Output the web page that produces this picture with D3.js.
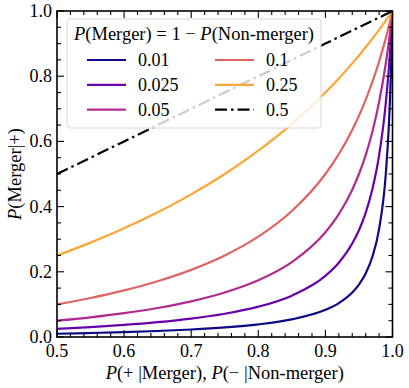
<!DOCTYPE html>
<html>
<head>
<meta charset="utf-8">
<script src="https://cdn.jsdelivr.net/npm/d3@7"></script>
<style>
  body { margin: 0; background: #fff; }
</style>
</head>
<body>
<div id="chart"></div>
<script>
// x grid (sensitivity = specificity) and P(Merger|+)
const xs = [0.5, 0.55, 0.6, 0.65, 0.7, 0.75, 0.8, 0.85, 0.9, 0.92, 0.94, 0.95, 0.96, 0.97, 0.98, 0.99, 0.995, 0.998, 1.0];

const p001 = [0.0100, 0.0122, 0.0149, 0.0184, 0.0230, 0.0294, 0.0388, 0.0541, 0.0833, 0.1041, 0.1366, 0.1610, 0.1951, 0.2462, 0.3311, 0.5000, 0.6678, 0.8344, 1.0];
const p0025 = [0.0250, 0.0304, 0.0370, 0.0455, 0.0565, 0.0714, 0.0930, 0.1269, 0.1875, 0.2277, 0.2866, 0.3276, 0.3810, 0.4533, 0.5568, 0.7174, 0.8361, 0.9275, 1.0];
const p005 = [0.0500, 0.0604, 0.0732, 0.0890, 0.1094, 0.1364, 0.1739, 0.2297, 0.3214, 0.3771, 0.4519, 0.5000, 0.5581, 0.6299, 0.7206, 0.8390, 0.9128, 0.9633, 1.0];
const p01 = [0.1000, 0.1196, 0.1429, 0.1711, 0.2059, 0.2500, 0.3077, 0.3864, 0.5000, 0.5610, 0.6351, 0.6786, 0.7273, 0.7823, 0.8448, 0.9167, 0.9567, 0.9823, 1.0];
const p025 = [0.2500, 0.2895, 0.3333, 0.3824, 0.4375, 0.5000, 0.5714, 0.6538, 0.7500, 0.7931, 0.8393, 0.8636, 0.8889, 0.9151, 0.9423, 0.9706, 0.9852, 0.9940, 1.0];
const p05 = [0.5, 0.55, 0.6, 0.65, 0.7, 0.75, 0.8, 0.85, 0.9, 0.92, 0.94, 0.95, 0.96, 0.97, 0.98, 0.99, 0.995, 0.998, 1.0];

const seriesLabels = ["0.01", "0.025", "0.05", "0.1", "0.25", "0.5"];
const seriesValues = [p001, p0025, p005, p01, p025, p05];
const seriesColors = ["#0d0887", "#6a00a8", "#b12a90", "#e16462", "#fca636", "#000000"];

const xTicks = [0.5, 0.6, 0.7, 0.8, 0.9, 1.0];
const yTicks = [0.0, 0.2, 0.4, 0.6, 0.8, 1.0];

const W = 409, H = 388;
const margin = { top: 11, right: 16.5, bottom: 51, left: 57 };
const width = W - margin.left - margin.right;
const height = H - margin.top - margin.bottom;

const svg = d3.select("#chart").append("svg")
    .attr("width", W)
    .attr("height", H)
    .attr("font-family", "'Liberation Serif', 'Times New Roman', serif");

const g = svg.append("g")
    .attr("transform", `translate(${margin.left},${margin.top})`);

const x = d3.scaleLinear().domain([0.5, 1.0]).range([0, width]);
const y = d3.scaleLinear().domain([0, 1]).range([height, 0]);

g.append("clipPath").attr("id", "plotclip")
    .append("rect").attr("width", width).attr("height", height);

// Curves
const line = d3.line()
    .x(d => x(d[0]))
    .y(d => y(d[1]))
    .curve(d3.curveMonotoneX);

const series = seriesLabels.map((label, i) => ({
    label,
    color: seriesColors[i],
    dashed: label === "0.5",
    points: xs.map((xv, j) => [xv, seriesValues[i][j]])
}));

g.append("g").attr("clip-path", "url(#plotclip)")
    .selectAll("path")
    .data(series)
    .enter()
    .append("path")
    .attr("d", d => line(d.points))
    .attr("fill", "none")
    .attr("stroke", d => d.color)
    .attr("stroke-width", 2.2)
    .attr("stroke-dasharray", d => d.dashed ? "12,4,2.5,4" : null);

// Ticks (inward, on all four sides)
const minorX = d3.range(0.5, 1.0001, 0.02).filter(v => !xTicks.some(t => Math.abs(t - v) < 1e-6));
const minorY = d3.range(0, 1.0001, 0.05).filter(v => !yTicks.some(t => Math.abs(t - v) < 1e-6));
const majorLen = 7, minorLen = 4;
const tickG = g.append("g").attr("stroke", "#000").attr("stroke-width", 1.1);

function xTickLines(vals, len) {
    vals.forEach(v => {
        tickG.append("line").attr("x1", x(v)).attr("x2", x(v)).attr("y1", height).attr("y2", height - len);
        tickG.append("line").attr("x1", x(v)).attr("x2", x(v)).attr("y1", 0).attr("y2", len);
    });
}
function yTickLines(vals, len) {
    vals.forEach(v => {
        tickG.append("line").attr("y1", y(v)).attr("y2", y(v)).attr("x1", 0).attr("x2", len);
        tickG.append("line").attr("y1", y(v)).attr("y2", y(v)).attr("x1", width).attr("x2", width - len);
    });
}
xTickLines(xTicks, majorLen);
xTickLines(minorX, minorLen);
yTickLines(yTicks, majorLen);
yTickLines(minorY, minorLen);

// Tick labels
g.append("g").selectAll("text")
    .data(xTicks)
    .enter()
    .append("text")
    .attr("x", d => x(d))
    .attr("y", height + 20)
    .attr("text-anchor", "middle")
    .attr("font-size", "18px")
    .text(d => d.toFixed(1));

g.append("g").selectAll("text")
    .data(yTicks)
    .enter()
    .append("text")
    .attr("x", -5)
    .attr("y", d => y(d))
    .attr("dy", "0.33em")
    .attr("text-anchor", "end")
    .attr("font-size", "18px")
    .text(d => d.toFixed(1));

// Frame
g.append("rect")
    .attr("width", width)
    .attr("height", height)
    .attr("fill", "none")
    .attr("stroke", "#000")
    .attr("stroke-width", 1.6);

// Axis labels
const xLabel = g.append("text")
    .attr("x", width / 2)
    .attr("y", height + 42)
    .attr("text-anchor", "middle")
    .attr("font-size", "18.5px");
xLabel.append("tspan").attr("font-style", "italic").text("P");
xLabel.append("tspan").text("(+ |Merger), ");
xLabel.append("tspan").attr("font-style", "italic").text("P");
xLabel.append("tspan").text("(\u2212 |Non-merger)");

const yLabel = g.append("text")
    .attr("transform", `translate(-36,${height / 2}) rotate(-90)`)
    .attr("text-anchor", "middle")
    .attr("font-size", "18.5px");
yLabel.append("tspan").attr("font-style", "italic").text("P");
yLabel.append("tspan").text("(Merger|+)");

// Legend
const legend = svg.append("g");
legend.append("rect")
    .attr("x", 67)
    .attr("y", 19)
    .attr("width", 254)
    .attr("height", 109)
    .attr("rx", 3.5)
    .attr("fill", "#fff")
    .attr("fill-opacity", 0.8)
    .attr("stroke", "#d6d6d6")
    .attr("stroke-width", 1);

const title = legend.append("text")
    .attr("x", 194)
    .attr("y", 39.5)
    .attr("text-anchor", "middle")
    .attr("font-size", "18.5px");
title.append("tspan").attr("font-style", "italic").text("P");
title.append("tspan").text("(Merger) = 1 \u2212 ");
title.append("tspan").attr("font-style", "italic").text("P");
title.append("tspan").text("(Non-merger)");

const items = legend.selectAll(".item")
    .data(series)
    .enter()
    .append("g")
    .attr("class", "item")
    .attr("transform", (d, i) => `translate(${i < 3 ? 87 : 215},${60 + (i % 3) * 24.8})`);

items.append("line")
    .attr("x1", 0)
    .attr("x2", 39)
    .attr("stroke", d => d.color)
    .attr("stroke-width", 2.2)
    .attr("stroke-dasharray", d => d.dashed ? "12,4,2.5,4" : null);

items.append("text")
    .attr("x", 51)
    .attr("dy", "0.35em")
    .attr("font-size", "18px")
    .text(d => d.label);
</script>
</body>
</html>
